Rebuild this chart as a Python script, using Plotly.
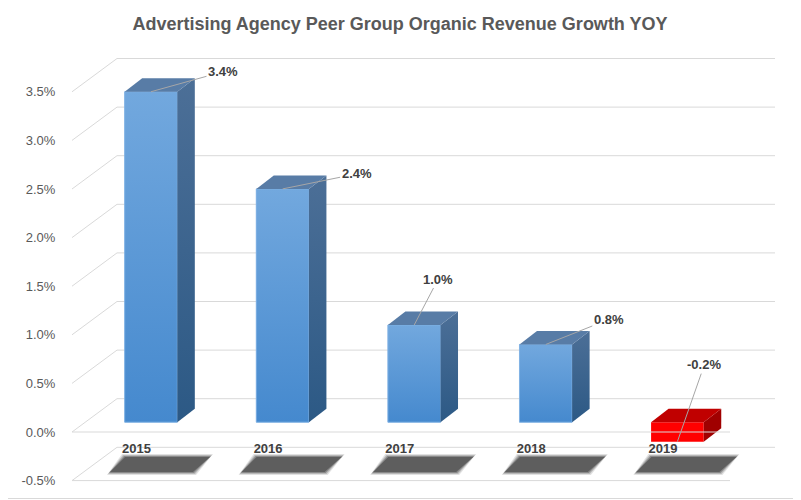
import plotly.graph_objects as go

# ---------------- data ----------------
CATEGORIES = ["2015", "2016", "2017", "2018", "2019"]
GROWTH_PCT = [3.4, 2.4, 1.0, 0.8, -0.2]
TICK_VALUES = [-0.5, 0.0, 0.5, 1.0, 1.5, 2.0, 2.5, 3.0, 3.5]
TICK_LABELS = [f"{v:.1f}%" for v in TICK_VALUES]
TITLE = "Advertising Agency Peer Group Organic Revenue Growth YOY"

# data-label offsets from the bar end (pixels)
LABEL_DX = [72, 74, 24, 63, 27]
LABEL_DY = [-20, -15, -46, -25, -77]

# ---------------- geometry (screen pixel -> axis units) ----------------
OFF = 8                 # page body margin
W, H = 801 - OFF, 500 - OFF
ML = 72 - OFF           # plot area starts at screen x = 72
PX_CAT = 131.6          # pixels per category
PX_PCT = 97.2           # pixels per 1 %
FIRST_CENTER = 151      # screen x of first bar centre
ZERO = 432              # screen y of 0 % on the front plane
X0 = -(FIRST_CENTER - OFF - ML) / PX_CAT
X1 = X0 + (W - ML) / PX_CAT
Y1 = (ZERO - OFF) / PX_PCT
Y0 = (ZERO - OFF - H) / PX_PCT


def dxu(p):
    return p / PX_CAT


def dyu(p):
    return p / PX_PCT


def xpix(p):
    return X0 + (p - OFF - ML) / PX_CAT


def ypix(p):
    return (ZERO - p) / PX_PCT


BACK_DX, BACK_DY = dxu(45), dyu(33.3)
BAR_BASE = dyu(9.8)
DEPTH_DX, DEPTH_DY = dxu(17.5), dyu(13.4)
BAR_W = 0.4

GRID = "#D9D9D9"
FONT = "Liberation Sans, Arial, sans-serif"

fig = go.Figure()
shapes = []

# back wall + side wall gridlines
for v in TICK_VALUES:
    shapes.append(dict(type="line", layer="below", xref="x", yref="y",
                       x0=xpix(72), y0=v, x1=xpix(72) + BACK_DX, y1=v + BACK_DY,
                       line=dict(color=GRID, width=1)))
    shapes.append(dict(type="line", layer="below", xref="x", yref="y",
                       x0=xpix(72) + BACK_DX, y0=v + BACK_DY, x1=xpix(775), y1=v + BACK_DY,
                       line=dict(color=GRID, width=1)))

# front floor edges
for v in [TICK_VALUES[0], 0.0]:
    shapes.append(dict(type="line", layer="above", xref="x", yref="y",
                       x0=xpix(72), y0=v, x1=xpix(730), y1=v,
                       line=dict(color=GRID, width=1)))

# chart border (right and bottom edges; left/top lie in the page margin)
bx = (799.5 - OFF - ML) / (W - ML)
by = 1 - (498.5 - OFF) / H
shapes.append(dict(type="line", layer="above", xref="paper", yref="paper",
                   x0=bx, x1=bx, y0=by, y1=1.02, line=dict(color="#D9D9D9", width=1)))
shapes.append(dict(type="line", layer="above", xref="paper", yref="paper",
                   x0=-ML / (W - ML), x1=bx, y0=by, y1=by, line=dict(color="#D9D9D9", width=1)))

idx = list(range(len(CATEGORIES)))

# shadows on the floor
for i in idx:
    c = i
    top_y, bot_y = ypix(457), ypix(472)
    for grow, col in [(3.0, "rgba(90,90,90,0.18)"), (2.0, "rgba(90,90,90,0.3)"),
                      (1.0, "rgba(90,90,90,0.5)"), (0.0, "#5E5E5E")]:
        gx = dxu(grow)
        gy = dyu(grow)
        xs = [c + dxu(-26) - gx, c + dxu(59) + gx, c + dxu(42) + gx, c + dxu(-41) - gx, c + dxu(-26) - gx]
        ys = [top_y + gy, top_y + gy, bot_y - gy, bot_y - gy, top_y + gy]
        fig.add_trace(go.Scatter(x=xs, y=ys, mode="lines", fill="toself", fillcolor=col,
                                 line=dict(width=0), hoverinfo="skip", showlegend=False))

# category labels
fig.add_trace(go.Scatter(
    x=[i - dxu(14.5) for i in idx], y=[ypix(450)] * len(idx),
    mode="text", text=[f"<b>{c}</b>" for c in CATEGORIES],
    textfont=dict(family=FONT, size=13, color="#404040"),
    hoverinfo="skip", showlegend=False))

# front faces as real bars
fig.add_trace(go.Bar(
    x=idx, y=GROWTH_PCT, base=BAR_BASE, width=BAR_W,
    marker=dict(color=["#5A9AD9" if v >= 0 else "#FF0000" for v in GROWTH_PCT], line=dict(width=0)),
    showlegend=False, hoverinfo="skip"))

# 3D faces
for i, v in zip(idx, GROWTH_PCT):
    xl, xr = i - BAR_W / 2, i + BAR_W / 2
    b, t = BAR_BASE, BAR_BASE + v
    lo, hi = min(b, t), max(b, t)
    pos = v >= 0
    if pos:
        fig.add_trace(go.Scatter(
            x=[xl, xr, xr, xl, xl], y=[lo, lo, hi, hi, lo], mode="lines", fill="toself",
            fillgradient=dict(type="vertical", colorscale=[[0, "#4589CE"], [1, "#72A8DE"]]),
            line=dict(width=1, color="rgba(130,178,228,0.9)"), hoverinfo="skip", showlegend=False))
    side_cs = [[0, "#2C5985"], [1, "#4C6F97"]] if pos else [[0, "#A00000"], [1, "#A00000"]]
    fig.add_trace(go.Scatter(
        x=[xr, xr + DEPTH_DX, xr + DEPTH_DX, xr, xr],
        y=[lo, lo + DEPTH_DY, hi + DEPTH_DY, hi, lo], mode="lines", fill="toself",
        fillgradient=dict(type="vertical", colorscale=side_cs),
        line=dict(width=0), hoverinfo="skip", showlegend=False))
    fig.add_trace(go.Scatter(
        x=[xl, xr, xr + DEPTH_DX, xl + DEPTH_DX, xl],
        y=[hi, hi, hi + DEPTH_DY, hi + DEPTH_DY, hi], mode="lines", fill="toself",
        fillcolor="#587CA6" if pos else "#C00000",
        line=dict(width=0), hoverinfo="skip", showlegend=False))

# data labels with leader lines
annotations = []
for i, v, ax, ay in zip(idx, GROWTH_PCT, LABEL_DX, LABEL_DY):
    annotations.append(dict(
        x=i, y=BAR_BASE + v, xref="x", yref="y", ax=ax, ay=ay,
        text=f"<b>{v:.1f}%</b>", showarrow=True, arrowhead=0, arrowwidth=1,
        arrowcolor="#A6A6A6", standoff=0, borderpad=1,
        font=dict(family=FONT, size=13, color="#404040")))

fig.update_layout(
    width=W, height=H,
    margin=dict(l=ML, r=0, t=0, b=0, autoexpand=False),
    paper_bgcolor="white", plot_bgcolor="white",
    title=dict(text=f"<b>{TITLE}</b>", x=(400 - OFF) / W, xref="container", xanchor="center",
               y=1 - (24 - OFF) / H, yref="container", yanchor="middle",
               font=dict(family=FONT, size=18, color="#595959")),
    xaxis=dict(range=[X0, X1], visible=False, fixedrange=True),
    yaxis=dict(range=[Y0, Y1], tickmode="array", tickvals=TICK_VALUES, ticktext=TICK_LABELS,
               ticks="outside", ticklen=13, tickcolor="rgba(0,0,0,0)",
               showgrid=False, zeroline=False, showline=False,
               tickfont=dict(family=FONT, size=13, color="#595959"), fixedrange=True),
    shapes=shapes, annotations=annotations, showlegend=False, barmode="overlay",
)

fig.write_html("out.html")
